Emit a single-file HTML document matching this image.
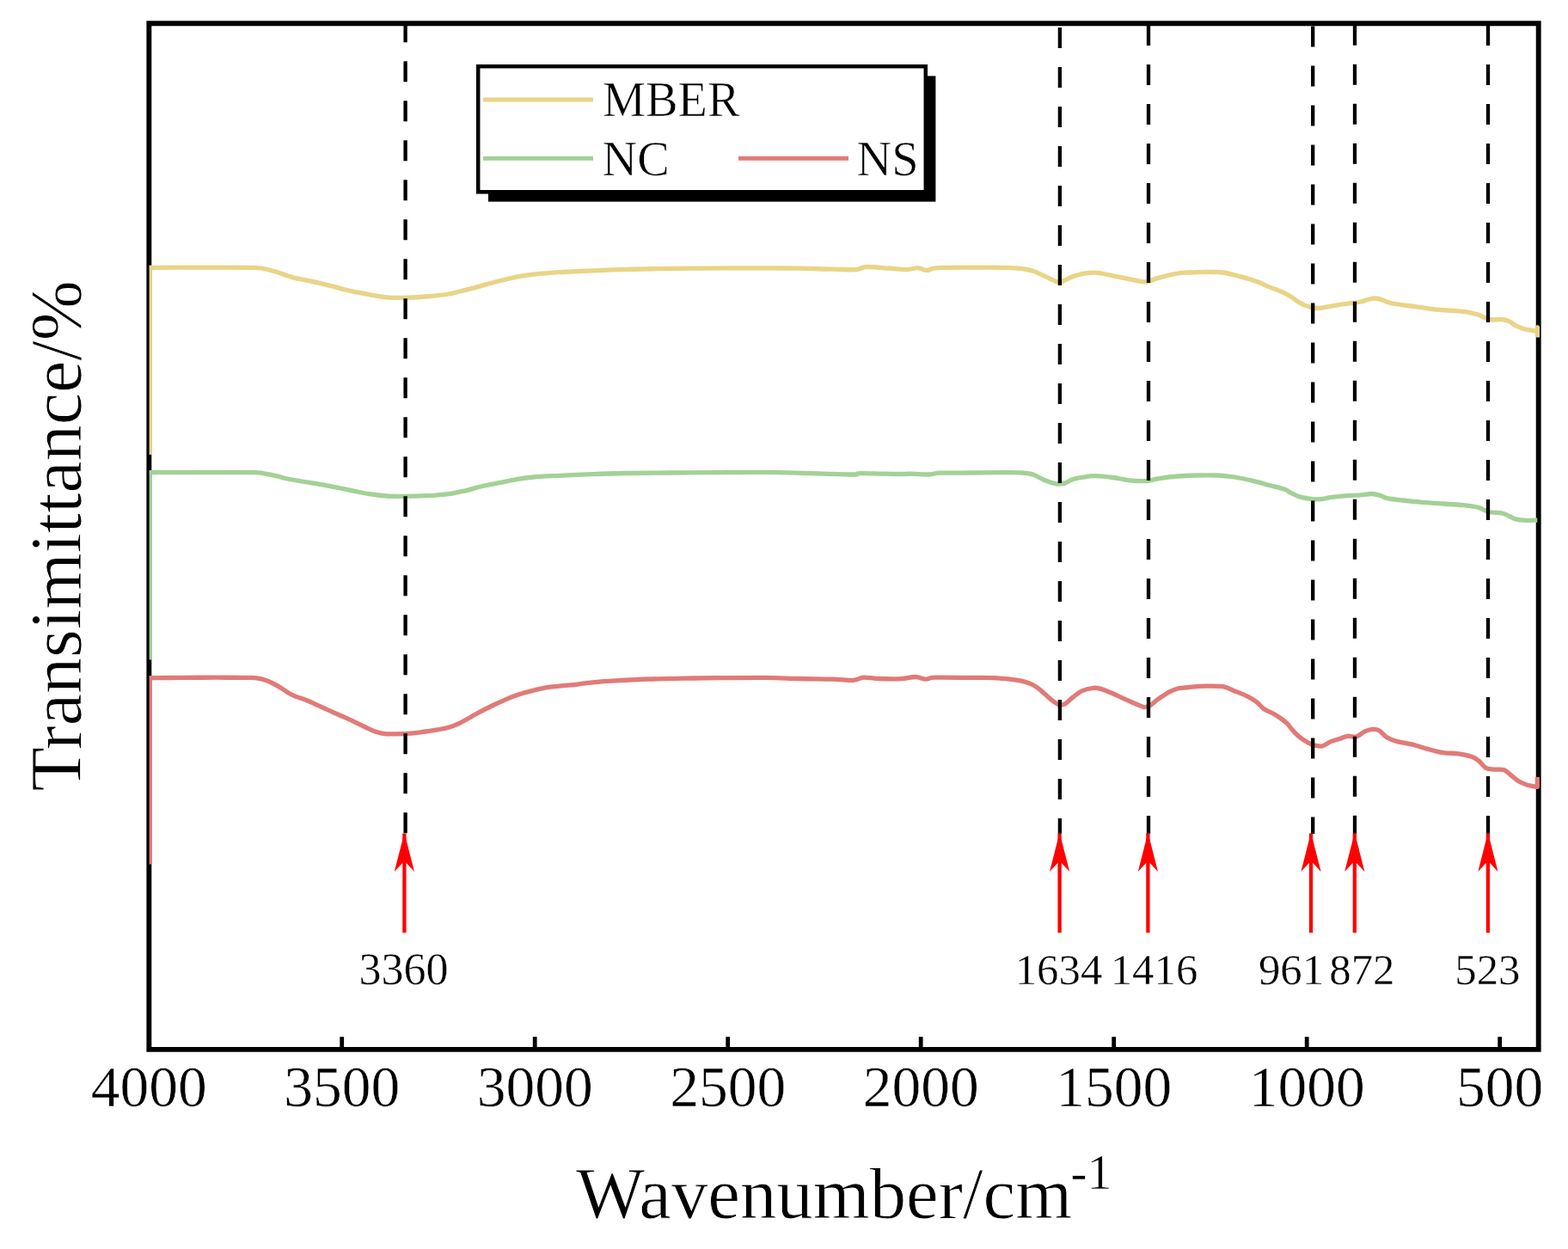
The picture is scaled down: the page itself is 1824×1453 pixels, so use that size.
<!DOCTYPE html>
<html><head><meta charset="utf-8"><title>FTIR spectra</title>
<style>
html,body{margin:0;padding:0;background:#fff;}
svg{display:block;}
text{font-family:"Liberation Serif","Times New Roman",serif;fill:#000;stroke:#fff;}
.tl{font-size:67.5px;stroke-width:0.5px;}
.pl{font-size:50.8px;stroke-width:0.4px;}
.lg{font-size:56.3px;stroke-width:0.6px;}
.at{font-size:84px;stroke-width:0.8px;}
</style></head><body>
<svg width="1824" height="1453" viewBox="0 0 1824 1453">
<rect width="1824" height="1453" fill="#fff"/>
<path d="M173.35 27.3 H1789.7 V1220.9 H173.35 Z" fill="none" stroke="#000" stroke-width="5.9" stroke-linejoin="miter"/>
<line x1="175.2" y1="528.9" x2="175.2" y2="308.8" stroke="#E9D487" stroke-width="3.2"/><path d="M173.8 311.3 C184.1 311.3 215.6 311.1 235.8 311.1 C256.0 311.1 282.9 311.0 295.0 311.3 C307.1 311.6 303.8 312.2 308.2 313.0 C312.6 313.8 316.9 315.0 321.3 316.3 C325.7 317.6 330.8 319.7 334.5 320.9 C338.2 322.1 339.3 322.6 343.7 323.6 C348.1 324.6 354.7 325.5 360.8 326.8 C366.9 328.1 373.9 329.8 380.5 331.4 C387.1 333.0 395.4 335.4 400.3 336.7 C405.2 337.9 405.1 337.9 410.0 338.9 C414.9 339.9 423.1 341.4 429.7 342.6 C436.3 343.8 442.9 345.3 449.5 345.9 C456.1 346.5 461.5 346.4 469.2 346.3 C476.9 346.2 486.7 345.7 495.5 345.0 C504.3 344.3 514.1 343.3 521.8 342.0 C529.5 340.7 535.0 339.0 541.6 337.4 C548.2 335.8 554.7 333.9 561.3 332.1 C567.9 330.3 574.4 328.5 581.0 326.8 C587.6 325.1 594.2 323.5 600.8 322.2 C607.4 320.9 613.9 320.0 620.5 319.2 C627.1 318.4 635.4 317.8 640.3 317.4 C645.2 317.0 641.8 317.0 650.0 316.6 C658.2 316.2 676.4 315.4 689.5 314.9 C702.6 314.3 715.8 313.7 728.9 313.3 C742.0 312.9 755.2 312.8 768.4 312.6 C781.6 312.4 794.7 312.3 807.9 312.2 C821.1 312.1 833.7 312.0 847.4 311.9 C861.1 311.8 876.3 311.8 890.0 311.8 C903.7 311.9 916.3 312.0 929.5 312.2 C942.7 312.4 958.0 313.0 969.0 313.2 C980.0 313.4 988.7 314.1 995.3 313.6 C1001.9 313.2 1001.8 310.7 1008.4 310.5 C1015.0 310.3 1027.0 311.7 1034.7 312.2 C1042.4 312.7 1049.0 313.7 1054.5 313.6 C1060.0 313.5 1063.6 311.5 1067.6 311.6 C1071.5 311.8 1074.5 314.5 1078.2 314.5 C1081.9 314.5 1081.4 312.2 1090.0 311.6 C1098.6 311.1 1116.8 311.2 1130.0 311.2 C1143.2 311.1 1159.6 311.1 1169.5 311.3 C1179.4 311.5 1183.7 311.9 1189.2 312.6 C1194.7 313.3 1198.0 314.0 1202.4 315.5 C1206.8 317.0 1211.1 319.4 1215.5 321.4 C1219.9 323.4 1225.4 326.4 1228.7 327.4 C1232.0 328.4 1232.0 328.4 1235.3 327.4 C1238.6 326.4 1244.0 322.9 1248.4 321.4 C1252.8 319.9 1257.2 318.9 1261.6 318.2 C1266.0 317.5 1270.3 316.9 1274.7 317.1 C1279.1 317.3 1282.4 318.4 1287.9 319.5 C1293.4 320.6 1301.0 322.1 1307.6 323.4 C1314.2 324.7 1322.8 326.7 1327.4 327.4 C1332.0 328.1 1332.0 328.3 1335.3 327.6 C1338.6 326.9 1341.3 325.0 1347.1 323.4 C1352.9 321.8 1364.0 319.1 1370.0 318.0 C1376.0 316.9 1377.7 317.3 1383.2 317.0 C1388.7 316.7 1396.3 316.3 1402.9 316.3 C1409.5 316.3 1416.0 316.1 1422.6 317.0 C1429.2 317.9 1435.8 319.9 1442.4 321.6 C1449.0 323.4 1456.6 325.5 1462.1 327.5 C1467.6 329.5 1470.5 331.4 1475.3 333.4 C1480.1 335.4 1486.6 337.6 1491.0 339.5 C1495.4 341.4 1498.1 342.9 1501.6 345.0 C1505.1 347.1 1508.6 350.3 1512.1 352.3 C1515.6 354.3 1518.9 355.8 1522.6 356.8 C1526.3 357.8 1530.3 358.6 1534.5 358.5 C1538.7 358.4 1543.2 357.1 1547.6 356.3 C1552.0 355.6 1556.4 354.7 1560.8 354.0 C1565.2 353.3 1570.2 352.8 1573.9 352.3 C1577.6 351.8 1580.3 351.6 1583.2 351.0 C1586.1 350.4 1588.2 349.2 1591.1 348.5 C1594.0 347.8 1597.4 346.8 1600.6 347.0 C1603.8 347.2 1606.9 348.8 1610.1 349.8 C1613.2 350.8 1615.0 352.1 1619.5 353.0 C1624.0 353.9 1631.4 354.7 1637.3 355.5 C1643.2 356.3 1649.2 357.0 1655.1 357.8 C1661.0 358.6 1666.9 359.7 1672.8 360.3 C1678.7 360.9 1684.7 361.0 1690.6 361.5 C1696.5 362.0 1703.4 362.5 1708.3 363.3 C1713.2 364.1 1716.6 365.1 1720.2 366.3 C1723.8 367.6 1726.7 369.9 1729.7 370.8 C1732.7 371.8 1735.0 371.9 1738.0 372.0 C1741.0 372.1 1744.5 371.2 1747.4 371.5 C1750.4 371.8 1752.9 372.6 1755.7 373.9 C1758.5 375.2 1761.0 377.7 1764.0 379.2 C1767.0 380.7 1770.0 381.9 1773.5 382.8 C1777.0 383.8 1783.3 384.5 1785.3 384.9 L1788.4 385.2 L1788.4 381.0 L1788.4 392.5" fill="none" stroke="#E9D487" stroke-width="5.3" stroke-linejoin="round"/>
<line x1="175.2" y1="767.5" x2="175.2" y2="547.2" stroke="#A3D196" stroke-width="3.2"/><path d="M173.8 549.7 C184.1 549.7 215.6 549.5 235.8 549.5 C256.0 549.5 282.9 549.4 295.0 549.7 C307.1 550.0 303.8 550.4 308.2 551.1 C312.6 551.8 316.9 552.7 321.3 553.7 C325.7 554.7 329.0 555.9 334.5 557.0 C340.0 558.1 347.6 559.4 354.2 560.5 C360.8 561.6 367.3 562.4 373.9 563.6 C380.5 564.8 387.7 566.3 393.7 567.5 C399.7 568.7 404.0 569.6 410.0 570.8 C416.0 572.0 423.1 573.7 429.7 574.7 C436.3 575.7 442.9 576.5 449.5 577.0 C456.1 577.5 461.5 577.4 469.2 577.4 C476.9 577.4 486.7 577.2 495.5 576.7 C504.3 576.2 514.1 575.7 521.8 574.7 C529.5 573.7 535.0 572.3 541.6 570.8 C548.2 569.3 554.7 567.0 561.3 565.5 C567.9 564.0 574.4 562.9 581.0 561.6 C587.6 560.3 594.2 558.7 600.8 557.6 C607.4 556.5 612.3 555.7 620.5 555.0 C628.7 554.3 638.5 553.9 650.0 553.3 C661.5 552.7 676.4 552.1 689.5 551.6 C702.6 551.1 713.5 550.8 728.9 550.5 C744.2 550.2 764.0 550.1 781.6 550.0 C799.2 549.9 816.1 549.7 834.2 549.6 C852.3 549.5 871.9 549.2 890.0 549.4 C908.1 549.6 925.5 550.2 942.6 550.6 C959.7 551.0 982.7 552.0 992.6 552.0 C1002.5 552.0 992.6 550.7 1001.8 550.6 C1011.0 550.5 1038.0 551.4 1047.9 551.5 C1057.8 551.6 1055.5 551.0 1061.0 551.1 C1066.5 551.2 1075.3 552.1 1080.8 552.0 C1086.3 551.9 1085.8 550.5 1094.0 550.2 C1102.2 549.9 1117.4 550.1 1130.0 550.0 C1142.6 549.9 1159.6 549.6 1169.5 549.6 C1179.4 549.6 1183.7 549.6 1189.2 550.0 C1194.7 550.4 1198.0 550.7 1202.4 552.2 C1206.8 553.7 1211.1 557.0 1215.5 558.8 C1219.9 560.6 1225.0 562.2 1228.7 562.8 C1232.4 563.4 1234.6 563.3 1237.9 562.4 C1241.2 561.5 1244.5 558.8 1248.4 557.5 C1252.4 556.2 1257.2 555.5 1261.6 554.9 C1266.0 554.2 1269.2 553.5 1274.7 553.6 C1280.2 553.7 1287.9 554.6 1294.5 555.5 C1301.1 556.4 1307.6 558.1 1314.2 558.8 C1320.8 559.5 1328.4 559.8 1333.9 559.5 C1339.4 559.2 1341.1 557.7 1347.1 556.8 C1353.1 555.9 1362.9 554.6 1370.0 554.0 C1377.1 553.4 1382.0 553.2 1389.7 553.0 C1397.4 552.8 1408.4 552.7 1416.1 553.0 C1423.8 553.3 1429.2 554.0 1435.8 555.0 C1442.4 556.0 1448.9 557.4 1455.5 558.9 C1462.1 560.4 1468.7 562.4 1475.3 564.2 C1481.9 566.0 1490.6 568.0 1495.0 569.5 C1499.4 571.0 1498.3 571.9 1501.6 573.4 C1504.9 574.9 1509.2 577.5 1514.7 578.7 C1520.2 580.0 1529.0 580.9 1534.5 580.9 C1540.0 580.9 1542.1 579.3 1547.6 578.6 C1553.1 577.9 1561.5 577.1 1567.4 576.6 C1573.3 576.1 1578.5 576.1 1583.2 575.8 C1587.9 575.4 1592.1 574.4 1595.8 574.5 C1599.5 574.6 1602.3 575.4 1605.3 576.2 C1608.3 577.1 1609.2 578.6 1613.6 579.6 C1617.9 580.6 1624.5 581.2 1631.4 582.0 C1638.3 582.8 1647.2 583.7 1655.1 584.4 C1663.0 585.1 1670.8 585.5 1678.7 586.0 C1686.6 586.5 1695.5 587.0 1702.4 587.7 C1709.3 588.5 1715.3 589.2 1720.2 590.5 C1725.1 591.8 1727.5 594.4 1732.0 595.5 C1736.5 596.6 1743.5 596.2 1747.4 597.0 C1751.4 597.8 1752.9 599.3 1755.7 600.5 C1758.5 601.7 1760.6 603.4 1764.0 604.2 C1767.4 605.0 1771.9 605.2 1775.9 605.4 C1780.0 605.5 1786.2 605.1 1788.3 605.1" fill="none" stroke="#A3D196" stroke-width="5.3" stroke-linejoin="round"/>
<line x1="175.2" y1="1005.4" x2="175.2" y2="786.1" stroke="#E07B78" stroke-width="3.2"/><path d="M173.8 788.6 C179.8 788.6 197.0 788.5 209.5 788.4 C222.0 788.3 235.8 788.2 248.9 788.2 C262.1 788.2 280.1 788.3 288.4 788.4 C296.7 788.5 295.6 788.3 298.9 788.8 C302.2 789.2 305.1 790.1 308.2 791.1 C311.3 792.1 314.1 793.4 317.4 795.0 C320.7 796.6 324.8 799.0 327.9 800.9 C331.0 802.8 333.2 804.7 335.8 806.2 C338.4 807.7 340.2 808.7 343.7 810.1 C347.2 811.5 352.4 812.9 356.8 814.7 C361.2 816.5 365.6 818.7 370.0 820.7 C374.4 822.7 378.8 824.6 383.2 826.6 C387.6 828.6 391.8 830.5 396.3 832.5 C400.8 834.5 405.5 836.5 410.0 838.6 C414.5 840.7 418.8 843.0 423.2 845.0 C427.6 847.0 431.9 849.4 436.3 850.9 C440.7 852.4 444.0 853.3 449.5 853.8 C455.0 854.2 462.6 853.9 469.2 853.6 C475.8 853.3 482.4 852.6 489.0 851.8 C495.6 851.0 503.2 849.8 508.7 848.9 C514.2 848.0 517.4 847.6 521.8 846.3 C526.2 845.0 530.6 843.2 535.0 841.1 C539.4 839.0 543.8 836.2 548.2 833.8 C552.6 831.4 556.9 828.9 561.3 826.6 C565.7 824.3 570.1 822.1 574.5 820.0 C578.9 817.9 583.2 816.0 587.6 814.1 C592.0 812.2 596.4 810.3 600.8 808.8 C605.2 807.3 609.5 806.1 613.9 804.9 C618.3 803.7 622.7 802.5 627.1 801.6 C631.5 800.7 636.5 799.8 640.3 799.2 C644.1 798.6 645.1 798.7 650.0 798.2 C654.9 797.7 663.1 797.0 669.7 796.3 C676.3 795.6 681.8 794.5 689.5 793.8 C697.2 793.1 704.8 792.5 715.8 791.9 C726.8 791.3 742.1 790.5 755.3 790.0 C768.4 789.5 781.6 789.4 794.7 789.2 C807.9 789.0 818.3 788.8 834.2 788.7 C850.1 788.6 874.1 788.3 890.0 788.4 C905.9 788.5 916.3 789.2 929.5 789.5 C942.7 789.8 958.5 789.8 969.0 790.1 C979.5 790.4 986.7 791.7 992.6 791.4 C998.5 791.1 999.7 788.5 1004.5 788.2 C1009.3 787.9 1014.4 789.2 1021.6 789.5 C1028.8 789.8 1040.7 790.0 1047.9 789.7 C1055.1 789.4 1060.2 787.4 1065.0 787.5 C1069.8 787.6 1073.1 790.0 1076.8 790.1 C1080.5 790.2 1078.5 788.5 1087.4 788.2 C1096.3 787.9 1118.5 788.3 1130.0 788.4 C1141.5 788.5 1147.5 788.2 1156.3 788.7 C1165.1 789.2 1176.0 790.2 1182.6 791.1 C1189.2 792.0 1191.8 792.9 1195.8 794.3 C1199.8 795.7 1203.0 797.4 1206.3 799.6 C1209.6 801.8 1212.4 804.9 1215.5 807.5 C1218.6 810.1 1221.9 813.3 1224.7 815.4 C1227.5 817.5 1230.2 819.5 1232.6 820.0 C1235.0 820.5 1236.6 820.2 1239.2 818.7 C1241.8 817.2 1245.1 813.3 1248.4 810.8 C1251.7 808.3 1255.0 805.4 1258.9 803.6 C1262.9 801.9 1268.4 800.6 1272.1 800.3 C1275.8 800.0 1277.6 800.5 1281.3 801.6 C1285.0 802.7 1290.1 804.9 1294.5 806.8 C1298.9 808.7 1303.2 810.8 1307.6 812.8 C1312.0 814.8 1316.8 817.1 1320.8 818.7 C1324.8 820.3 1328.4 822.3 1331.3 822.6 C1334.2 822.9 1335.3 822.2 1337.9 820.7 C1340.5 819.2 1343.4 816.0 1347.1 813.4 C1350.8 810.8 1356.5 807.0 1360.3 804.9 C1364.1 802.8 1366.2 801.9 1370.0 801.0 C1373.8 800.1 1377.7 800.0 1383.2 799.5 C1388.7 799.0 1396.3 798.3 1402.9 798.2 C1409.5 798.1 1417.1 797.8 1422.6 798.7 C1428.1 799.6 1431.0 801.8 1435.8 803.7 C1440.6 805.6 1447.2 808.1 1451.6 810.3 C1456.0 812.5 1459.0 814.4 1462.1 816.8 C1465.2 819.2 1466.7 822.2 1470.0 824.5 C1473.3 826.8 1478.3 828.5 1481.8 830.5 C1485.3 832.5 1488.4 834.6 1491.0 836.5 C1493.6 838.4 1495.8 840.2 1497.6 842.0 C1499.4 843.8 1500.0 845.2 1502.0 847.5 C1504.0 849.8 1506.7 853.0 1509.5 855.5 C1512.3 858.0 1515.6 860.4 1518.7 862.3 C1521.8 864.2 1524.6 865.9 1527.9 866.8 C1531.2 867.7 1535.1 868.4 1538.4 867.8 C1541.7 867.1 1544.3 864.3 1547.6 862.9 C1550.9 861.5 1554.9 860.7 1558.2 859.6 C1561.5 858.5 1564.1 856.7 1567.4 856.3 C1570.7 855.9 1574.6 857.9 1577.9 857.0 C1581.2 856.1 1584.0 852.5 1587.1 851.1 C1590.2 849.7 1593.4 848.6 1596.3 848.4 C1599.2 848.2 1601.3 848.1 1604.2 849.7 C1607.1 851.3 1610.1 855.9 1613.6 858.0 C1617.1 860.1 1620.5 861.2 1625.4 862.6 C1630.3 864.0 1637.3 864.6 1643.2 866.1 C1649.1 867.6 1655.1 869.8 1661.0 871.4 C1666.9 873.0 1672.8 874.7 1678.7 875.6 C1684.6 876.5 1691.0 876.0 1696.5 876.8 C1702.0 877.6 1708.0 878.9 1711.9 880.3 C1715.9 881.7 1717.4 882.9 1720.2 885.1 C1723.0 887.3 1725.5 891.7 1728.5 893.4 C1731.5 895.1 1734.5 894.7 1738.0 895.1 C1741.5 895.5 1746.5 894.5 1749.8 895.7 C1753.1 896.9 1755.3 900.0 1758.1 902.2 C1760.9 904.4 1763.4 907.0 1766.4 908.8 C1769.4 910.6 1772.6 911.8 1775.9 912.9 C1779.2 914.0 1784.7 914.9 1786.5 915.3 L1788.3 915.3 L1788.3 904.0" fill="none" stroke="#E07B78" stroke-width="5.3" stroke-linejoin="round"/>
<line x1="471.6" y1="25.2" x2="471.6" y2="970" stroke="#000" stroke-width="4.3" stroke-dasharray="24 22"/>
<line x1="1232.9" y1="32.0" x2="1232.9" y2="970" stroke="#000" stroke-width="4.3" stroke-dasharray="24 22"/>
<line x1="1336.0" y1="28.9" x2="1336.0" y2="970" stroke="#000" stroke-width="4.3" stroke-dasharray="24 22"/>
<line x1="1527.2" y1="30.4" x2="1527.2" y2="970" stroke="#000" stroke-width="4.3" stroke-dasharray="24 22"/>
<line x1="1576.0" y1="28.8" x2="1576.0" y2="970" stroke="#000" stroke-width="4.3" stroke-dasharray="24 22"/>
<line x1="1731.0" y1="29.0" x2="1731.0" y2="970" stroke="#000" stroke-width="4.3" stroke-dasharray="24 22"/>
<line x1="470.4" y1="969.5" x2="470.4" y2="1085" stroke="#FF0000" stroke-width="4.3"/>
<path d="M470.4 968.5 L482.0 1014 L470.4 1001.5 L458.8 1014 Z" fill="#FF0000"/>
<line x1="1232.6" y1="969.5" x2="1232.6" y2="1085" stroke="#FF0000" stroke-width="4.3"/>
<path d="M1232.6 968.5 L1244.2 1014 L1232.6 1001.5 L1221.0 1014 Z" fill="#FF0000"/>
<line x1="1335.4" y1="969.5" x2="1335.4" y2="1085" stroke="#FF0000" stroke-width="4.3"/>
<path d="M1335.4 968.5 L1347.0 1014 L1335.4 1001.5 L1323.8 1014 Z" fill="#FF0000"/>
<line x1="1525.0" y1="969.5" x2="1525.0" y2="1085" stroke="#FF0000" stroke-width="4.3"/>
<path d="M1525.0 968.5 L1536.6 1014 L1525.0 1001.5 L1513.4 1014 Z" fill="#FF0000"/>
<line x1="1575.8" y1="969.5" x2="1575.8" y2="1085" stroke="#FF0000" stroke-width="4.3"/>
<path d="M1575.8 968.5 L1587.4 1014 L1575.8 1001.5 L1564.2 1014 Z" fill="#FF0000"/>
<line x1="1730.9" y1="969.5" x2="1730.9" y2="1085" stroke="#FF0000" stroke-width="4.3"/>
<path d="M1730.9 968.5 L1742.5 1014 L1730.9 1001.5 L1719.3 1014 Z" fill="#FF0000"/>
<line x1="397.7" y1="1219" x2="397.7" y2="1206.2" stroke="#000" stroke-width="4.8"/>
<line x1="622.2" y1="1219" x2="622.2" y2="1206.2" stroke="#000" stroke-width="4.8"/>
<line x1="846.7" y1="1219" x2="846.7" y2="1206.2" stroke="#000" stroke-width="4.8"/>
<line x1="1071.2" y1="1219" x2="1071.2" y2="1206.2" stroke="#000" stroke-width="4.8"/>
<line x1="1295.7" y1="1219" x2="1295.7" y2="1206.2" stroke="#000" stroke-width="4.8"/>
<line x1="1520.2" y1="1219" x2="1520.2" y2="1206.2" stroke="#000" stroke-width="4.8"/>
<line x1="1744.7" y1="1219" x2="1744.7" y2="1206.2" stroke="#000" stroke-width="4.8"/>
<text x="173.2" y="1287" text-anchor="middle" class="tl">4000</text>
<text x="397.7" y="1287" text-anchor="middle" class="tl">3500</text>
<text x="622.2" y="1287" text-anchor="middle" class="tl">3000</text>
<text x="846.7" y="1287" text-anchor="middle" class="tl">2500</text>
<text x="1071.2" y="1287" text-anchor="middle" class="tl">2000</text>
<text x="1295.7" y="1287" text-anchor="middle" class="tl">1500</text>
<text x="1520.2" y="1287" text-anchor="middle" class="tl">1000</text>
<text x="1744.7" y="1287" text-anchor="middle" class="tl">500</text>
<text x="469.4" y="1145" text-anchor="middle" class="pl" style="font-size:52px">3360</text>
<text x="1231.5" y="1145" text-anchor="middle" class="pl">1634</text>
<text x="1342.5" y="1145" text-anchor="middle" class="pl">1416</text>
<text x="1502.0" y="1145" text-anchor="middle" class="pl">961</text>
<text x="1584.4" y="1145" text-anchor="middle" class="pl">872</text>
<text x="1730.4" y="1145" text-anchor="middle" class="pl">523</text>
<rect x="568" y="88.4" width="520.4" height="146.2" fill="#000"/>
<rect x="556.2" y="77.2" width="520.6" height="146.1" fill="#fff" stroke="#000" stroke-width="4.5"/>
<line x1="562" y1="116" x2="690" y2="116" stroke="#E9D487" stroke-width="5"/>
<line x1="562" y1="184.3" x2="690" y2="184.3" stroke="#A3D196" stroke-width="5"/>
<line x1="859" y1="184.3" x2="987" y2="184.3" stroke="#E07B78" stroke-width="5"/>
<text x="701" y="134.6" class="lg">MBER</text>
<text x="700.6" y="203.6" class="lg">NC</text>
<text x="996.6" y="203.6" class="lg">NS</text>
<text transform="translate(93.5 920.5) rotate(-90)" class="at">Transimittance/%</text>
<text x="670" y="1416.5" class="at" style="font-size:84.8px">Wavenumber/cm</text>
<text x="1245.3" y="1382.6" style="font-size:58px;stroke-width:0.6px">-1</text>
</svg>
</body></html>
